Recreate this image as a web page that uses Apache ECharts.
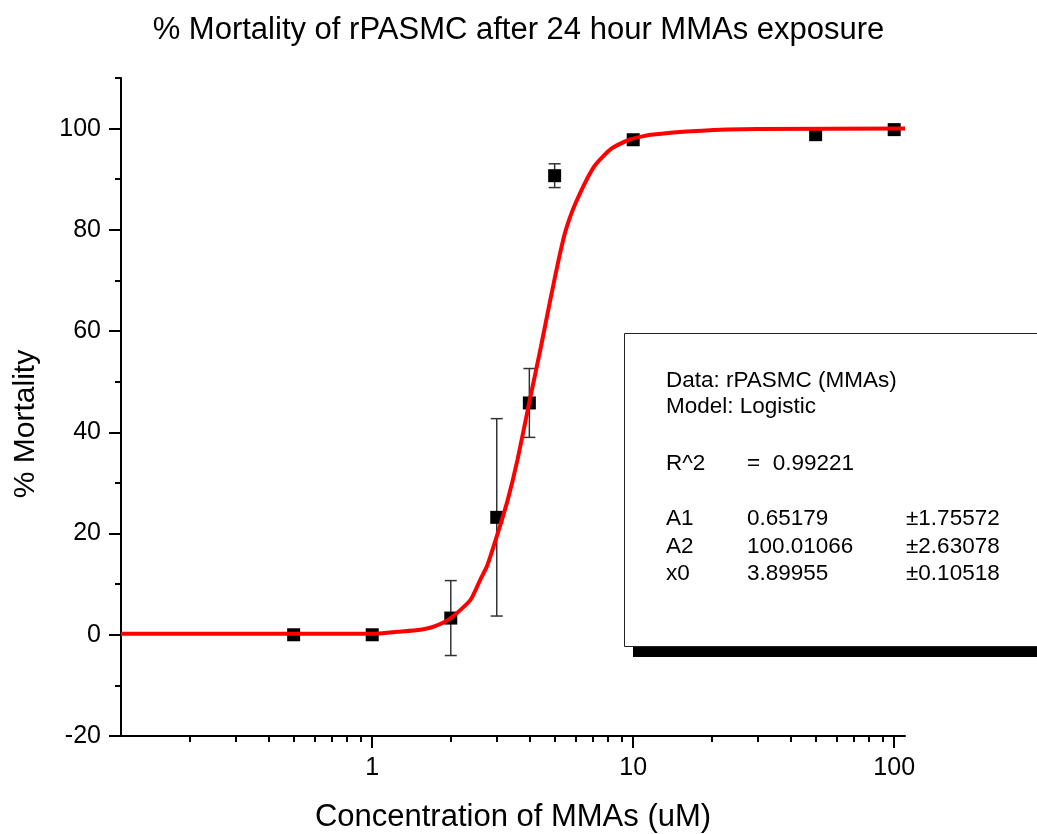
<!DOCTYPE html>
<html>
<head>
<meta charset="utf-8">
<script src="https://cdn.jsdelivr.net/npm/echarts@6/dist/echarts.min.js"></script>
<style>
html, body { margin: 0; padding: 0; background: #fff; }
#chart { width: 1037px; height: 834px; }
</style>
</head>
<body>
<div id="chart"></div>
<script>
// measured points
const conc = [0.5, 1, 2, 3, 4, 5, 10, 50, 100];
const mortality = [0, 0, 3.3, 23.2, 45.8, 90.7, 97.8, 98.8, 99.8];
const errs = [0, 0, 7.4, 19.5, 6.8, 2.35, 0, 0, 0];

// fitted logistic curve
const fitX = [0.109, 0.5, 1, 1.25, 1.53, 1.72, 2, 2.38, 2.6, 2.76, 3.02, 3.3, 3.6, 3.99, 4.43, 4.84, 5.21, 5.52, 6.04, 7.08, 8.23, 9.65, 11.7, 18.3, 30, 110];
const fitY = [0.2, 0.2, 0.2, 0.6, 1.0, 1.6, 3.3, 6.9, 11.0, 13.7, 19.9, 26.5, 34.5, 45.7, 56.9, 66.8, 74.7, 80.0, 85.5, 92.5, 96.0, 97.8, 98.8, 99.6, 99.9, 100.0];

// ticks
const xMajor = [1, 10, 100];
const xMinor = [0.2, 0.3, 0.4, 0.5, 0.6, 0.7, 0.8, 0.9, 2, 3, 4, 5, 6, 7, 8, 9, 20, 30, 40, 50, 60, 70, 80, 90];
const yMajor = [-20, 0, 20, 40, 60, 80, 100];
const yMinor = [-10, 10, 30, 50, 70, 90, 110];

// fit report box
const reportHead = ['Data: rPASMC (MMAs)', 'Model: Logistic'];
const reportR2 = ['R^2', '=  0.99221'];
const reportParams = [
    ['A1', '0.65179', '±1.75572'],
    ['A2', '100.01066', '±2.63078'],
    ['x0', '3.89955', '±0.10518']
];

const FONT = '"Liberation Sans", Arial, sans-serif';

const chart = echarts.init(document.getElementById('chart'));

const boxText = [];
const txt = (x, y, s) => ({
    type: 'text', x: x, y: y, z: 20,
    style: { text: s, fontSize: 22.5, fontFamily: FONT, fill: '#000', verticalAlign: 'middle' }
});
boxText.push(txt(666, 381, reportHead[0]));
boxText.push(txt(666, 407, reportHead[1]));
boxText.push(txt(666, 464, reportR2[0]));
boxText.push(txt(747, 464, reportR2[1]));
reportParams.forEach((row, i) => {
    const y = 519 + i * 27.5;
    boxText.push(txt(666, y, row[0]));
    boxText.push(txt(747, y, row[1]));
    boxText.push(txt(906, y, row[2]));
});

const option = {
    animation: false,
    title: {
        text: '% Mortality of rPASMC after 24 hour MMAs exposure',
        left: 'center',
        top: 10,
        textStyle: { fontSize: 31, fontWeight: 'normal', color: '#000', fontFamily: FONT }
    },
    grid: { left: 121, right: 132, top: 78, bottom: 98, outerBoundsMode: 'none' },
    xAxis: [
        {
            type: 'log',
            min: 0.109,
            max: 110,
            name: 'Concentration of MMAs (uM)',
            nameLocation: 'middle',
            nameGap: 66,
            nameTextStyle: { fontSize: 31, color: '#000', fontFamily: FONT },
            axisLine: { onZero: false, lineStyle: { color: '#000', width: 2 } },
            axisTick: { customValues: xMajor, length: 12, lineStyle: { color: '#000', width: 2 } },
            axisLabel: { customValues: xMajor, margin: 20, fontSize: 25, color: '#000', fontFamily: FONT },
            splitLine: { show: false }
        },
        {
            type: 'log',
            min: 0.109,
            max: 110,
            position: 'bottom',
            axisLine: { show: false, onZero: false },
            axisTick: { customValues: xMinor, length: 6, lineStyle: { color: '#000', width: 2 } },
            axisLabel: { show: false },
            splitLine: { show: false }
        }
    ],
    yAxis: [
        {
            type: 'value',
            min: -20,
            max: 110,
            interval: 20,
            name: '% Mortality',
            nameLocation: 'middle',
            nameGap: 80,
            nameTextStyle: { fontSize: 30, color: '#000', fontFamily: FONT, padding: [0, 34, 0, 0] },
            axisLine: { show: true, onZero: false, lineStyle: { color: '#000', width: 2 } },
            axisTick: { show: true, customValues: yMajor, length: 12, lineStyle: { color: '#000', width: 2 } },
            axisLabel: { customValues: yMajor, margin: 20, fontSize: 25, color: '#000', fontFamily: FONT },
            splitLine: { show: false }
        },
        {
            type: 'value',
            min: -20,
            max: 110,
            position: 'left',
            axisLine: { show: false, onZero: false },
            axisTick: { show: true, customValues: yMinor, length: 6, lineStyle: { color: '#000', width: 2 } },
            axisLabel: { show: false },
            splitLine: { show: false }
        }
    ],
    graphic: [
        {
            type: 'rect', z: 10,
            shape: { x: 633, y: 647, width: 420, height: 10 },
            style: { fill: '#000' }
        },
        {
            type: 'rect', z: 11,
            shape: { x: 624.5, y: 333.5, width: 430, height: 313 },
            style: { fill: '#fff', stroke: '#222', lineWidth: 1 }
        }
    ].concat(boxText),
    series: [
        {
            name: 'error',
            type: 'custom',
            data: conc.map((c, i) => [c, mortality[i], errs[i]]),
            renderItem: function (params, api) {
                const x = api.value(0), y = api.value(1), e = api.value(2);
                if (!e) return null;
                const top = api.coord([x, y + e]);
                const bot = api.coord([x, y - e]);
                const st = { stroke: '#333', lineWidth: 1.5 };
                return {
                    type: 'group',
                    children: [
                        { type: 'line', shape: { x1: top[0], y1: top[1], x2: bot[0], y2: bot[1] }, style: st },
                        { type: 'line', shape: { x1: top[0] - 6, y1: top[1], x2: top[0] + 6, y2: top[1] }, style: st },
                        { type: 'line', shape: { x1: bot[0] - 6, y1: bot[1], x2: bot[0] + 6, y2: bot[1] }, style: st }
                    ]
                };
            }
        },
        {
            name: 'rPASMC',
            type: 'scatter',
            symbol: 'rect',
            symbolSize: 13,
            itemStyle: { color: '#000', opacity: 1 },
            data: conc.map((c, i) => [c, mortality[i]])
        },
        {
            name: 'Logistic fit',
            type: 'line',
            symbol: 'none',
            smooth: 0.2,
            lineStyle: { color: '#ff0000', width: 4 },
            data: fitX.map((x, i) => [x, fitY[i]])
        }
    ]
};

chart.setOption(option);
</script>
</body>
</html>
